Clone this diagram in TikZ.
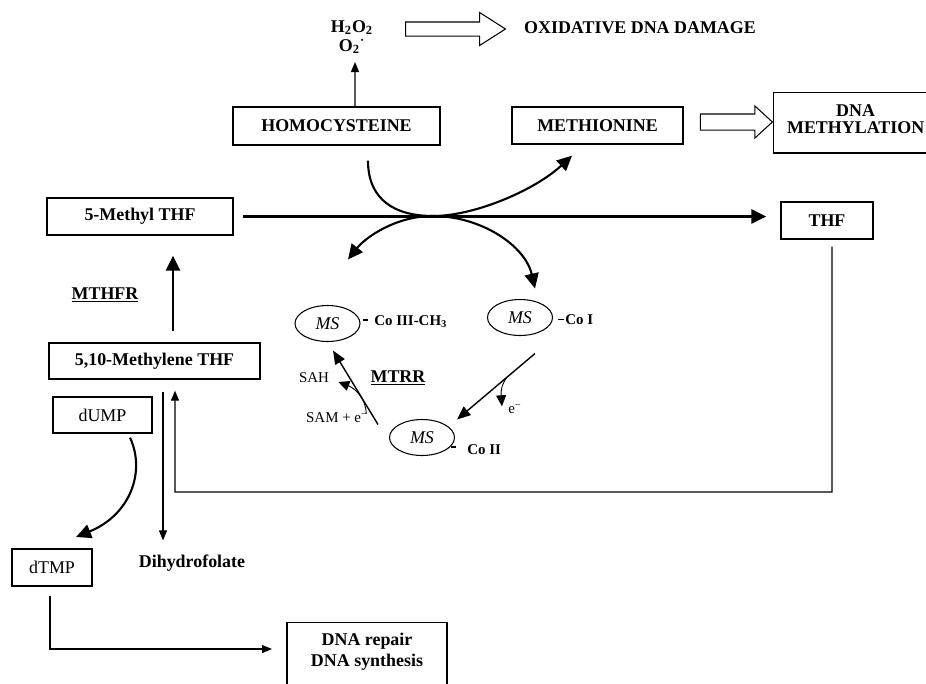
\documentclass[tikz,border=0pt]{standalone}
\usepackage{fontspec}
\setmainfont{Liberation Serif}
\usetikzlibrary{shapes, shapes.arrows, arrows.meta, positioning, calc}

\begin{document}
\begin{tikzpicture}[x=0.02cm, y=-0.02cm,
  font=\fontsize{10.2}{12}\selectfont,
  box/.style={draw, line width=0.75pt, inner sep=0pt, font=\fontsize{10.2}{12}\selectfont\bfseries},
  plainbox/.style={box, font=\fontsize{10.2}{12}\selectfont},
  lbl/.style={inner sep=0pt, font=\fontsize{10.2}{12}\selectfont\bfseries},
  ms/.style={draw, ellipse, line width=0.6pt, minimum width=1.3cm, minimum height=0.72cm, inner sep=0pt, font=\fontsize{10.2}{12}\selectfont\itshape},
  colbl/.style={anchor=west, inner sep=0pt, font=\fontsize{8.5}{10}\selectfont\bfseries},
  small/.style={inner sep=0pt, font=\fontsize{8.5}{10}\selectfont},
  hollow/.style={draw, single arrow, line width=0.6pt, inner xsep=0pt, single arrow head indent=0pt},
  thinarr/.style={line width=0.65pt, -{Triangle[length=0.2cm, width=0.16cm]}},
  smallarr/.style={line width=0.5pt, -{Triangle[length=0.22cm, width=0.2cm]}},
  medarr/.style={line width=0.8pt, -{Triangle[length=0.27cm, width=0.22cm]}},
  thickarr/.style={line width=1.6pt, -{Triangle[length=0.3cm, width=0.28cm]}},
  curvarr/.style={line width=1.2pt, -{Triangle[length=0.3cm, width=0.28cm]}},
  curvarrs/.style={line width=1.2pt, {Triangle[length=0.3cm, width=0.28cm]}-{Triangle[length=0.3cm, width=0.28cm]}},
  bond/.style={line width=1.1pt}
]
\useasboundingbox (0,0) rectangle (926,683);

% top row
\node[inner sep=0pt, align=center, font=\fontsize{10.2}{10.8}\selectfont\bfseries] (ros) at (352,37) {H\textsubscript{2}O\textsubscript{2}\\O\textsubscript{2}\textsuperscript{·}};
\node[lbl] (damage) at (640,28) {OXIDATIVE DNA DAMAGE};
\node[hollow, minimum height=2cm, inner ysep=0.13cm, single arrow head extend=0.19cm, single arrow tip angle=65] (oxarr) at (450,29) {};

\node[box, minimum width=4.14cm, minimum height=0.76cm] (homo) at (336.5,126) {HOMOCYSTEINE};
\node[box, minimum width=3.42cm, minimum height=0.74cm] (meth) at (597.5,125.5) {METHIONINE};
\node[box, anchor=north west, minimum width=3.28cm, align=center, inner ysep=0.24cm, text depth=0.16cm, font=\fontsize{10.2}{9.4}\selectfont\bfseries] (dnam) at (773,92) {DNA\\METHYLATION};
\node[hollow, minimum height=1.44cm, inner ysep=0.15cm, single arrow head extend=0.16cm, single arrow tip angle=85] (metarr) at (732,122) {};

% folate side
\node[box, minimum width=3.72cm, minimum height=0.74cm] (mthf) at (140,216.5) {5-Methyl THF};
\node[box, minimum width=1.84cm, minimum height=0.74cm] (thf) at (827,220.5) {THF};
\node[box, minimum width=4.22cm, minimum height=0.72cm] (mlene) at (154.5,361) {5,10-Methylene THF};
\node[plainbox, minimum width=1.98cm, minimum height=0.72cm] (dump) at (102.5,415) {dUMP};
\node[plainbox, minimum width=1.6cm, minimum height=0.74cm] (dtmp) at (52,567.5) {dTMP};
\node[lbl] (dhf) at (192,563) {Dihydrofolate};
\node[box, anchor=north, minimum width=3.2cm, align=center, inner ysep=0.2cm, text depth=1.6cm] (repair) at (367,622) {DNA repair\\DNA synthesis};
\node[lbl] (mthfr) at (105,295) {\underline{MTHFR}};
\node[lbl] (mtrr) at (398,378) {\underline{MTRR}};

% methionine synthase cycle
\node[ms] (ms1) at (327.5,323.5) {MS};
\node[ms] (ms2) at (520,317.5) {MS};
\node[ms] (ms3) at (422,437.5) {MS};
\node[colbl] (co3) at (374,322) {Co III-CH\textsubscript{3}};
\node[colbl] (co1) at (565,320) {Co I};
\node[colbl] (co2) at (467,450) {Co II};
\node[small] (sah) at (314,378) {SAH};
\node[small] (sam) at (337,418) {SAM + e\textsuperscript{−}};
\node[small] (el) at (515,409) {e\textsuperscript{−}};

\draw[bond] (ms1.east) ++(2,-3.5) -- ++(5,0);
\draw[bond] (ms2.east) ++(4.5,2) -- ++(6.5,0);
\draw[bond] (ms3.-19) ++(1,0) -- ++(5,0);

% connectors
\coordinate (rosin) at (355,62);
\draw[thinarr] ($(homo.north)+(18.5,0)$) -- (rosin);
\draw[thickarr, shorten <=0.18cm, shorten >=0.28cm] (mthf.east) -- (mthf.east -| thf.west);
\draw[thickarr, shorten <=0.22cm, shorten >=0.4cm] ($(mlene.north)+(18.5,0)$) coordinate (q1) -- (q1 |- mthf.south);
\draw[thinarr, shorten <=0.24cm, shorten >=0.28cm] ($(mlene.south)+(8.5,0)$) coordinate (q2) -- (q2 |- dhf.north);
\draw[thinarr, shorten >=0.22cm] ($(thf.south)+(5,7)$) |- (175,492) -- ($(mlene.south)+(20.5,0)$);
\draw[curvarr] ($(dump.south)+(27.5,4)$) .. controls (146,472) and (130,515) .. (76,537);
\coordinate (repin) at (272,649);
\draw[thinarr] ($(dtmp.south)+(-2,9)$) |- (repin);

\coordinate (cross) at (433,216);
\draw[curvarr] ($(homo.south)+(31.5,15)$) .. controls (368,200) and (395,216) .. (cross) .. controls (475,216) and (535,190) .. ($(meth.south)+(-25.5,11)$);
\draw[curvarrs] ($(ms1.north)+(20.5,-45.5)$) .. controls (365,238) and (395,216) .. (cross) .. controls (480,216) and (525,245) .. ($(ms2.north)+(15,-10.5)$);

\draw[medarr] ($(ms2.south)+(15,17.5)$) -- coordinate[pos=0.36] (eout) ($(ms3.north)+(35,0.5)$);
\draw[smallarr] (eout) .. controls +(-6,8) and +(-1,-14) .. ++(-5,29);
\draw[medarr] ($(ms3.north)+(-44,5.5)$) -- ($(ms1.south)+(5.5,8.5)$);
\draw[smallarr] ($(sam.east)+(-2,-4)$) .. controls +(0,-16) and +(16,6) .. ($(sah.east)+(9,4)$);
\end{tikzpicture}
\end{document}
